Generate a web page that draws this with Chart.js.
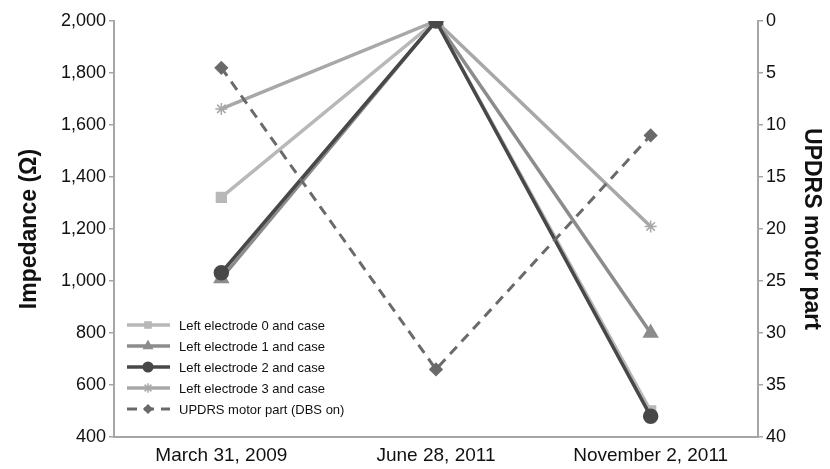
<!DOCTYPE html>
<html>
<head>
<meta charset="utf-8">
<script src="https://cdn.jsdelivr.net/npm/chart.js@4"></script>
<style>
  html, body { margin: 0; padding: 0; background: #fff; }
  #wrap { width: 830px; height: 469px; }
</style>
</head>
<body>
<div id="wrap"><canvas id="grafico" width="830" height="469"></canvas></div>
<script>
const fechas = ['March 31, 2009', 'June 28, 2011', 'November 2, 2011'];
const electrodo0 = [1322, 2000, 500];
const electrodo1 = [1010, 2000, 800];
const electrodo2 = [1032, 2000, 480];
const electrodo3 = [1662, 2000, 1210];
const updrs = [4.5, 33.5, 11];
const nombres = [
    'Left electrode 0 and case',
    'Left electrode 1 and case',
    'Left electrode 2 and case',
    'Left electrode 3 and case',
    'UPDRS motor part (DBS on)'
];

const FUENTE = '"Liberation Sans", Arial, sans-serif';

// leyenda dibujada dentro del area del grafico, abajo a la izquierda
const leyendaInterna = {
    id: 'leyendaInterna',
    afterDatasetsDraw(chart) {
        const ctx = chart.ctx;
        const area = chart.chartArea;
        const x0 = area.left + 13;
        let y = 325;
        ctx.save();
        chart.data.datasets.forEach(ds => {
            ctx.strokeStyle = ds.borderColor;
            ctx.lineWidth = ds.borderWidth;
            ctx.setLineDash(ds.borderDash || []);
            ctx.beginPath();
            ctx.moveTo(x0, y);
            ctx.lineTo(x0 + 43, y);
            ctx.stroke();
            ctx.setLineDash([]);
            ctx.fillStyle = ds.borderColor;
            ctx.strokeStyle = ds.borderColor;
            ctx.lineWidth = 1.5;
            Chart.helpers.drawPoint(ctx, {
                pointStyle: ds.pointStyle,
                radius: ds.pointRadius * 0.8,
                borderWidth: 1.5,
                rotation: 0
            }, x0 + 21, y);
            ctx.fillStyle = '#111';
            ctx.font = '13px ' + FUENTE;
            ctx.textBaseline = 'middle';
            ctx.fillText(ds.label, x0 + 52, y + 1);
            y += 21;
        });
        ctx.restore();
    }
};

function serie(label, data, color, estilo, radio, extra) {
    return Object.assign({
        label: label,
        data: data,
        yAxisID: 'y',
        borderColor: color,
        backgroundColor: color,
        pointBackgroundColor: color,
        pointBorderColor: color,
        borderWidth: 3.5,
        pointStyle: estilo,
        pointRadius: radio,
        pointHoverRadius: radio,
        tension: 0
    }, extra || {});
}

const ctx = document.getElementById('grafico').getContext('2d');
new Chart(ctx, {
    type: 'line',
    data: {
        labels: fechas,
        datasets: [
            serie(nombres[0], electrodo0, '#b8b8b8', 'rect', 5.5, { order: 4 }),
            serie(nombres[1], electrodo1, '#8c8c8c', 'triangle', 6, { order: 3 }),
            serie(nombres[2], electrodo2, '#484848', 'circle', 6, { order: 1 }),
            serie(nombres[3], electrodo3, '#a8a8a8', 'star', 6, { order: 2, pointBorderWidth: 1.5 }),
            serie(nombres[4], updrs, '#6a6a6a', 'rectRot', 5, { order: 0, yAxisID: 'y2', borderWidth: 3, borderDash: [10, 7] })
        ]
    },
    options: {
        responsive: false,
        animation: false,
        layout: { padding: { top: 21, right: 0, left: 0, bottom: 0 } },
        plugins: {
            legend: { display: false },
            tooltip: { enabled: false }
        },
        scales: {
            x: {
                offset: true,
                grid: { display: false, drawTicks: false },
                border: { color: '#a6a6a6', width: 2 },
                ticks: { color: '#111', font: { size: 19, family: FUENTE }, padding: 7, maxRotation: 0 },
                afterFit(scale) { scale.height = 32; }
            },
            y: {
                position: 'left',
                min: 400,
                max: 2000,
                grid: { drawOnChartArea: false, color: '#a6a6a6', tickLength: 5, lineWidth: 1.5 },
                border: { color: '#a6a6a6', width: 2 },
                ticks: {
                    stepSize: 200,
                    color: '#111',
                    font: { size: 18, family: FUENTE },
                    padding: 3,
                    callback: v => v.toLocaleString('en-US')
                },
                title: {
                    display: true,
                    text: 'Impedance (Ω)',
                    color: '#111',
                    font: { size: 23, weight: 'bold', family: FUENTE },
                    padding: { top: 16, bottom: 6 }
                },
                afterFit(scale) { scale.width = 114; }
            },
            y2: {
                position: 'right',
                min: 0,
                max: 40,
                reverse: true,
                grid: { drawOnChartArea: false, color: '#a6a6a6', tickLength: 5, lineWidth: 1.5 },
                border: { color: '#a6a6a6', width: 2 },
                ticks: { stepSize: 5, color: '#111', font: { size: 18, family: FUENTE }, padding: 3 },
                title: {
                    display: true,
                    text: 'UPDRS motor part',
                    color: '#111',
                    font: { size: 23, weight: 'bold', family: FUENTE },
                    padding: { top: 5, bottom: 0 }
                },
                afterFit(scale) { scale.width = 72; }
            }
        }
    },
    plugins: [leyendaInterna]
});
</script>
</body>
</html>
